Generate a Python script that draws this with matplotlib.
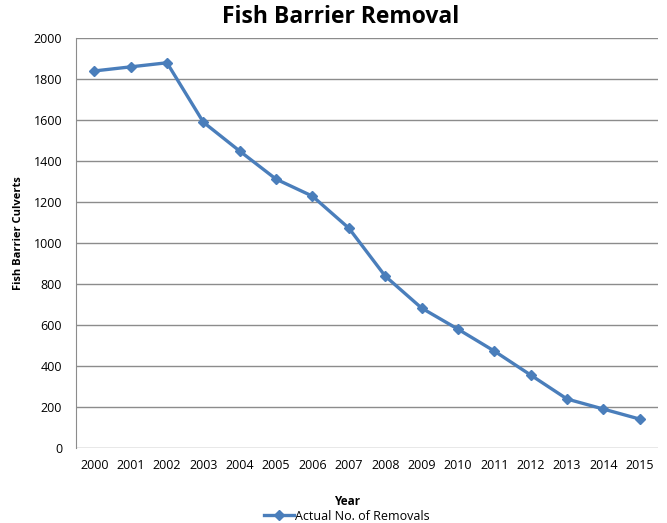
import matplotlib
matplotlib.use("Agg")
import matplotlib.pyplot as plt
from matplotlib.lines import Line2D

years = ["2000", "2001", "2002", "2003", "2004", "2005", "2006", "2007",
         "2008", "2009", "2010", "2011", "2012", "2013", "2014", "2015"]
removals = [1840, 1860, 1880, 1590, 1449, 1312, 1229, 1073,
            839, 683, 580, 473, 356, 239, 190, 141]
yticks = [0, 200, 400, 600, 800, 1000, 1200, 1400, 1600, 1800, 2000]

plt.rcParams['font.family'] = ['Open Sans', 'DejaVu Sans']
color = '#4A7EBB'

fig = plt.figure(figsize=(6.67, 5.23), dpi=100)
ax = fig.add_axes([0.114, 0.1434, 0.8725, 0.7836])

x = list(range(len(years)))
ax.plot(x, removals, color=color, lw=2.4, marker='D', ms=5.5,
        markerfacecolor=color, markeredgecolor=color)

ax.set_xlim(-0.5, len(years) - 0.5)
ax.set_ylim(0, 2000)
ax.set_yticks(yticks)
ax.set_yticklabels([str(v) for v in yticks], fontsize=9)
ax.set_xticks(x)
ax.set_xticklabels(years, fontsize=9)
ax.grid(axis='y', color='#8c8c8c', lw=1.0)
ax.set_axisbelow(True)
for s in ['top', 'right', 'bottom']:
    ax.spines[s].set_visible(False)
ax.spines['left'].set_color('#8c8c8c')
ax.tick_params(axis='both', length=0, pad=8, colors='#000000')
ax.tick_params(axis='y', pad=10)

fig.text(0.51, 0.967, "Fish Barrier Removal", ha='center', va='center',
         fontsize=16.5, fontweight='bold')
fig.text(0.027, 0.555, "Fish Barrier Culverts", ha='center', va='center',
         rotation=90, fontsize=8, fontweight='bold')
fig.text(0.521, 0.041, "Year", ha='center', va='center',
         fontsize=8.5, fontweight='bold')

handle = Line2D([0], [0], color=color, lw=2.4, marker='D', ms=5.5)
fig.legend([handle], ["Actual No. of Removals"], loc='center',
           bbox_to_anchor=(0.52, 0.013), frameon=False, fontsize=9,
           handlelength=2.4, handletextpad=0.1, borderpad=0)

fig.savefig("out.png", dpi=100)
